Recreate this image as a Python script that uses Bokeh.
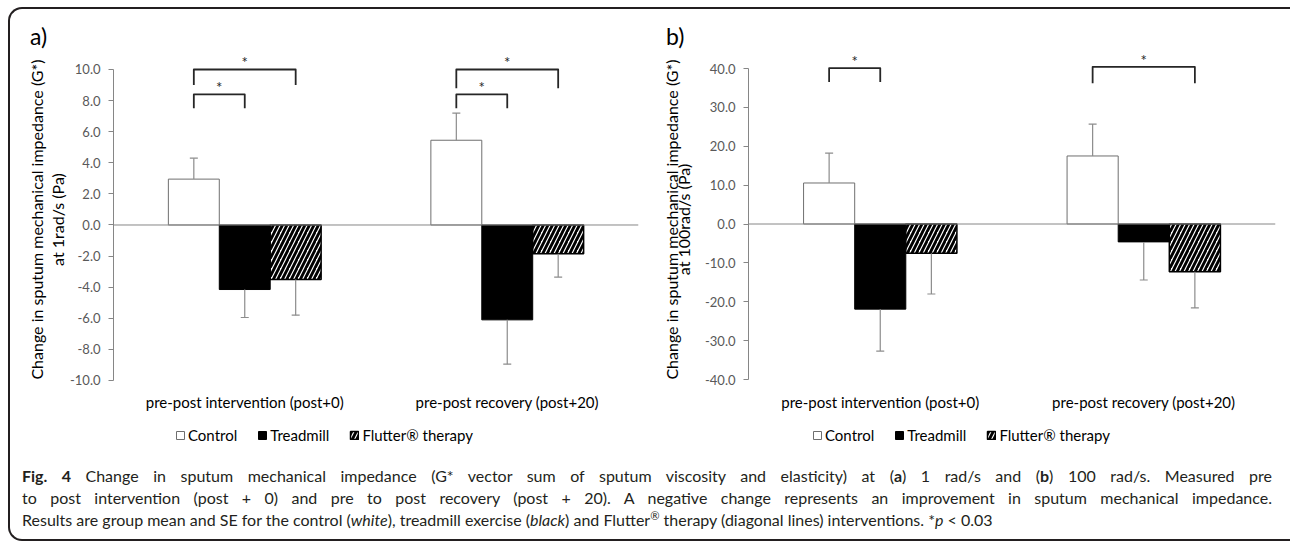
from bokeh.plotting import figure
from bokeh.models import (Range1d, LinearAxis, FixedTicker, NumeralTickFormatter, Span,
                          Legend, LegendItem, Div)
from bokeh.layouts import column, row
from bokeh.embed import file_html
from bokeh.resources import INLINE
from bokeh.core.properties import value

# ---------------- data ----------------
groups = ["pre-post intervention (post+0)", "pre-post recovery (post+20)"]
series = ["Control", "Treadmill", "Flutter\u00ae therapy"]

# panel a: 1 rad/s
a_control = [2.95, 5.45]
a_treadmill = [-4.15, -6.10]
a_flutter = [-3.50, -1.85]
a_control_se = [1.35, 1.75]
a_treadmill_se = [1.80, 2.85]
a_flutter_se = [2.30, 1.50]
a_ticks = [-10, -8, -6, -4, -2, 0, 2, 4, 6, 8, 10]
a_sig_pairs = [(0, 0, 2), (0, 0, 1), (1, 0, 2), (1, 0, 1)]
a_sig_levels = [(10.0, 9.0), (8.4, 7.5), (10.0, 8.8), (8.4, 7.5)]

# panel b: 100 rad/s
b_control = [10.55, 17.50]
b_treadmill = [-21.90, -4.60]
b_flutter = [-7.50, -12.30]
b_control_se = [7.70, 8.20]
b_treadmill_se = [10.80, 9.80]
b_flutter_se = [10.50, 9.30]
b_ticks = [-40, -30, -20, -10, 0, 10, 20, 30, 40]
b_sig_pairs = [(0, 0, 1), (1, 0, 2)]
b_sig_levels = [(40.1, 36.5), (40.4, 36.2)]

FONT = "Lato"
BW = 0.194
STYLES = [dict(fill_color="white", line_color="#6f6f6f", line_width=1),
          dict(fill_color="black", line_color="black", line_width=1),
          dict(fill_color="white", line_color="black", line_width=1.5,
               hatch_pattern="/", hatch_color="black", hatch_weight=2.8, hatch_scale=9)]


def panel(means, ses, ylabel, ticks, yr, sig_pairs, sig_levels, width, bl, br, lh, lstand):
    p = figure(width=width, height=364, x_range=Range1d(0, len(groups)),
               y_range=Range1d(*yr), x_axis_type=None, y_axis_type=None,
               output_backend="svg", toolbar_location=None,
               min_border_left=bl, min_border_right=br,
               min_border_top=0, min_border_bottom=30)
    p.outline_line_color = None

    yaxis = LinearAxis(bounds=(ticks[0], ticks[-1]), ticker=FixedTicker(ticks=ticks),
                       formatter=NumeralTickFormatter(format="0.0"),
                       axis_label=ylabel, axis_label_text_font=FONT,
                       axis_label_text_font_size="16px",
                       axis_label_text_font_style="normal",
                       axis_label_text_color="#000000",
                       axis_label_text_line_height=lh, axis_label_standoff=lstand,
                       major_label_text_font=FONT, major_label_text_font_size="13px",
                       major_label_text_color="#595959", major_label_standoff=8,
                       major_tick_out=5, major_tick_in=0,
                       minor_tick_line_color=None,
                       axis_line_color="#868686", major_tick_line_color="#868686")
    p.add_layout(yaxis, "left")

    centers = [i + 0.5 for i in range(len(groups))]
    xaxis = LinearAxis(ticker=FixedTicker(ticks=centers),
                       major_label_overrides={c: g for c, g in zip(centers, groups)},
                       axis_line_color=None, major_tick_line_color=None,
                       minor_tick_line_color=None, major_label_text_font=FONT,
                       major_label_text_font_size="15px",
                       major_label_text_color="#000000", major_label_standoff=0)
    p.add_layout(xaxis, "below")

    p.add_layout(Span(location=0, dimension="width", line_color="#868686", line_width=1))

    for k in range(len(series)):
        xs = [c + (k - 1) * BW for c in centers]
        p.vbar(x=xs, top=means[k], bottom=0, width=BW, **STYLES[k])
        ends = [m + s if m >= 0 else m - s for m, s in zip(means[k], ses[k])]
        p.segment(x0=xs, y0=means[k], x1=xs, y1=ends, line_color="#8c8c8c", line_width=1.2)
        p.scatter(x=xs, y=ends, marker="dash", size=8, line_color="#8c8c8c", line_width=1.2)

    bx, by, sx, sy = [], [], [], []
    for (g, i, j), (top, end) in zip(sig_pairs, sig_levels):
        x1 = centers[g] + (i - 1) * BW
        x2 = centers[g] + (j - 1) * BW
        bx.append([x1, x1, x2, x2])
        by.append([end, top, top, end])
        sx.append((x1 + x2) / 2)
        sy.append(top)
    p.multi_line(xs=bx, ys=by, line_color="#262626", line_width=1.8, line_join="round")
    p.text(x=sx, y=sy, text=["*"] * len(sx), text_align="center",
           text_baseline="bottom", y_offset=2,
           text_font=value(FONT), text_font_size="15px", text_color="#262626")
    return p


def legend_strip(width, lx):
    # legend-only proxy glyphs, tucked underneath the opaque legend box
    q = figure(width=width, height=36, x_range=Range1d(0, 1), y_range=Range1d(0, 1),
               x_axis_type=None, y_axis_type=None, output_backend="svg",
               toolbar_location=None, min_border=0)
    q.outline_line_color = None
    cx = (lx + 80) / width
    rs = [q.vbar(x=[cx], top=[0.5], bottom=0.45, width=0.005, **STYLES[k])
          for k in range(len(series))]
    leg = Legend(items=[LegendItem(label=s, renderers=[r]) for s, r in zip(series, rs)],
                 orientation="horizontal", location=(lx, 8),
                 glyph_width=10, glyph_height=10, label_standoff=3, spacing=20,
                 padding=0, margin=0, label_height=16,
                 label_text_font=FONT, label_text_font_size="15px",
                 label_text_color="#000000",
                 border_line_color=None, background_fill_color="white",
                 background_fill_alpha=1.0)
    q.add_layout(leg)
    return q


def letter_div(letter, width, left):
    return Div(text='<div style="position:relative;top:16px;left:%dpx;font-family:Lato;'
                    'font-size:23px;line-height:23px;color:#000;">%s</div>' % (left, letter),
               width=width, height=43, margin=0)


ylab_a = "Change in sputum mechanical impedance (G*)\nat 1rad/s (Pa)"
ylab_b = "Change in sputum mechanical impedance (G*)\nat 100rad/s (Pa)"

pa = panel([a_control, a_treadmill, a_flutter],
           [a_control_se, a_treadmill_se, a_flutter_se], ylab_a, a_ticks,
           (-10.386, 11.093), a_sig_pairs, a_sig_levels, 630, 103, 2, 1.1, 0)
pb = panel([b_control, b_treadmill, b_flutter],
           [b_control_se, b_treadmill_se, b_flutter_se], ylab_b, b_ticks,
           (-41.80, 44.116), b_sig_pairs, b_sig_levels, 650, 108, 15, 0.65, 9)

JUST = "display:block;width:1250px;text-align:justify;text-align-last:justify;"
caption_html = (
    '<div style="width:1250px;">'
    '<div style="' + JUST + '">'
    '<b>Fig. 4</b> Change in sputum mechanical impedance (G* vector sum of sputum viscosity and '
    'elasticity) at (<b>a</b>) 1 rad/s and (<b>b</b>) 100 rad/s. Measured pre</div>'
    '<div style="' + JUST + '">'
    'to post intervention (post + 0) and pre to post recovery (post + 20). A negative change '
    'represents an improvement in sputum mechanical impedance.</div>'
    '<div>Results are group mean and SE for the control (<i>white</i>), treadmill exercise '
    '(<i>black</i>) and Flutter<span style="font-size:70%;vertical-align:super;line-height:0;">\u00ae</span> '
    'therapy (diagonal lines) interventions. *<i>p</i> &lt; 0.03</div></div>'
)
caption = Div(text=caption_html, width=1250, height=74, margin=(13, 0, 0, 12),
              styles={"font-family": "Lato", "font-size": "16px", "line-height": "22px",
                      "color": "#231f20"})

layout = column(row(letter_div("a)", 630, 20), letter_div("b)", 650, 26)),
                row(pa, pb),
                row(legend_strip(630, 165), legend_strip(650, 172)),
                caption,
                margin=(7, 0, 0, 8),
                styles={"border-top": "2px solid #231f20", "border-left": "2px solid #231f20",
                        "border-bottom": "2px solid #231f20",
                        "border-top-left-radius": "14px",
                        "border-bottom-left-radius": "14px"})

open("out.html", "w").write(file_html(layout, INLINE))
